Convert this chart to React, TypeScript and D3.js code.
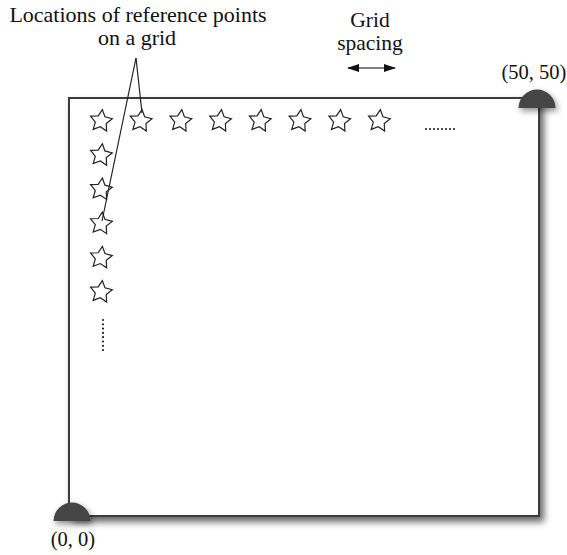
import React from "react";
import * as d3 from "d3";

// grid indices of the reference-point stars drawn along the top row and the left column
const rowStars = [0, 1, 2, 3, 4, 5, 6, 7];
const colStars = [1, 2, 3, 4, 5];
const cornerLabels = ["(0, 0)", "(50, 50)"];
const titleLines = ["Locations of reference points", "on a grid"];
const spacingLines = ["Grid", "spacing"];

const W = 567;
const H = 555;

export default function App() {
  // frame scales: field coordinates 0..50
  const fx = d3.scaleLinear().domain([0, 50]).range([69, 539]);
  const fy = d3.scaleLinear().domain([0, 50]).range([516, 98]);
  // grid index scales for stars
  const gx = d3.scaleLinear().domain([0, 7]).range([101, 379]);
  const gy = d3.scaleLinear().domain([0, 5]).range([121, 292]);

  const starPts: [number, number][] = [];
  for (let i = 0; i < 10; i++) {
    starPts.push([(i * Math.PI) / 5 + 0.12, i % 2 === 0 ? 11.5 : 5.8]);
  }
  const starPath = d3.lineRadial().curve(d3.curveLinearClosed)(starPts) as string;

  const semi = (r: number) =>
    d3.arc()({ innerRadius: 0, outerRadius: r, startAngle: -Math.PI / 2, endAngle: Math.PI / 2 }) as string;

  const font = "'Liberation Serif', 'Times New Roman', serif";
  const apex = [136, 58];
  const stars = [
    ...rowStars.map((i) => [gx(i), gy(0)]),
    ...colStars.map((j) => [gx(0), gy(j)]),
  ];

  return (
    <svg width={W} height={H} style={{ position: "absolute", left: 0, top: 0, background: "#fff" }}>
      <defs>
        <filter id="sh" x="-10%" y="-10%" width="130%" height="130%">
          <feDropShadow dx="4" dy="5" stdDeviation="3.5" floodColor="#000" floodOpacity="0.6" />
        </filter>
        <filter id="sh2" x="-50%" y="-50%" width="200%" height="200%">
          <feDropShadow dx="2" dy="3" stdDeviation="3" floodColor="#000" floodOpacity="0.45" />
        </filter>
        <marker id="ah" viewBox="0 0 12 8" refX="11" refY="4" markerWidth="12" markerHeight="8" markerUnits="userSpaceOnUse" orient="auto-start-reverse">
          <path d="M0,0 L12,4 L0,8 z" fill="#111" />
        </marker>
      </defs>
      <rect
        x={fx(0)}
        y={fy(50)}
        width={fx(50) - fx(0)}
        height={fy(0) - fy(50)}
        fill="#fff"
        stroke="#3a3a3a"
        strokeWidth={2}
        filter="url(#sh)"
      />
      {stars.map(([x, y], k) => (
        <path key={k} d={starPath} transform={`translate(${x},${y})`} fill="#fff" stroke="#222" strokeWidth={1.2} />
      ))}
      {/* ellipsis dots */}
      {d3.range(8).map((k) => (
        <circle key={"h" + k} cx={426 + k * 4} cy={129} r={1.1} fill="#222" />
      ))}
      {d3.range(8).map((k) => (
        <circle key={"v" + k} cx={103} cy={320 + k * 4.3} r={1.1} fill="#222" />
      ))}
      {/* pointer lines */}
      <line x1={apex[0]} y1={apex[1]} x2={142} y2={113} stroke="#222" strokeWidth={1.2} />
      <line x1={apex[0]} y1={apex[1]} x2={102} y2={221} stroke="#222" strokeWidth={1.2} />
      {/* corner reference markers */}
      <path d={semi(18.5)} transform={`translate(${fx(0) + 3},${fy(0) + 5})`} fill="#444" filter="url(#sh2)" />
      <path d={semi(18.5)} transform={`translate(${fx(50) - 2},${fy(50) + 10})`} fill="#444" filter="url(#sh2)" />
      {/* grid spacing arrow */}
      <line x1={348} y1={68} x2={395} y2={68} stroke="#555" strokeWidth={1.5} markerStart="url(#ah)" markerEnd="url(#ah)" />
      <g fontFamily={font} fill="#111" textAnchor="middle">
        <text x={138} y={22} fontSize={22}>{titleLines[0]}</text>
        <text x={137} y={45} fontSize={22}>{titleLines[1]}</text>
        <text x={370} y={27} fontSize={21.5}>{spacingLines[0]}</text>
        <text x={370} y={50} fontSize={21.5}>{spacingLines[1]}</text>
        <text x={73} y={546} fontSize={20.5}>{cornerLabels[0]}</text>
        <text x={534} y={79} fontSize={20.5}>{cornerLabels[1]}</text>
      </g>
    </svg>
  );
}
